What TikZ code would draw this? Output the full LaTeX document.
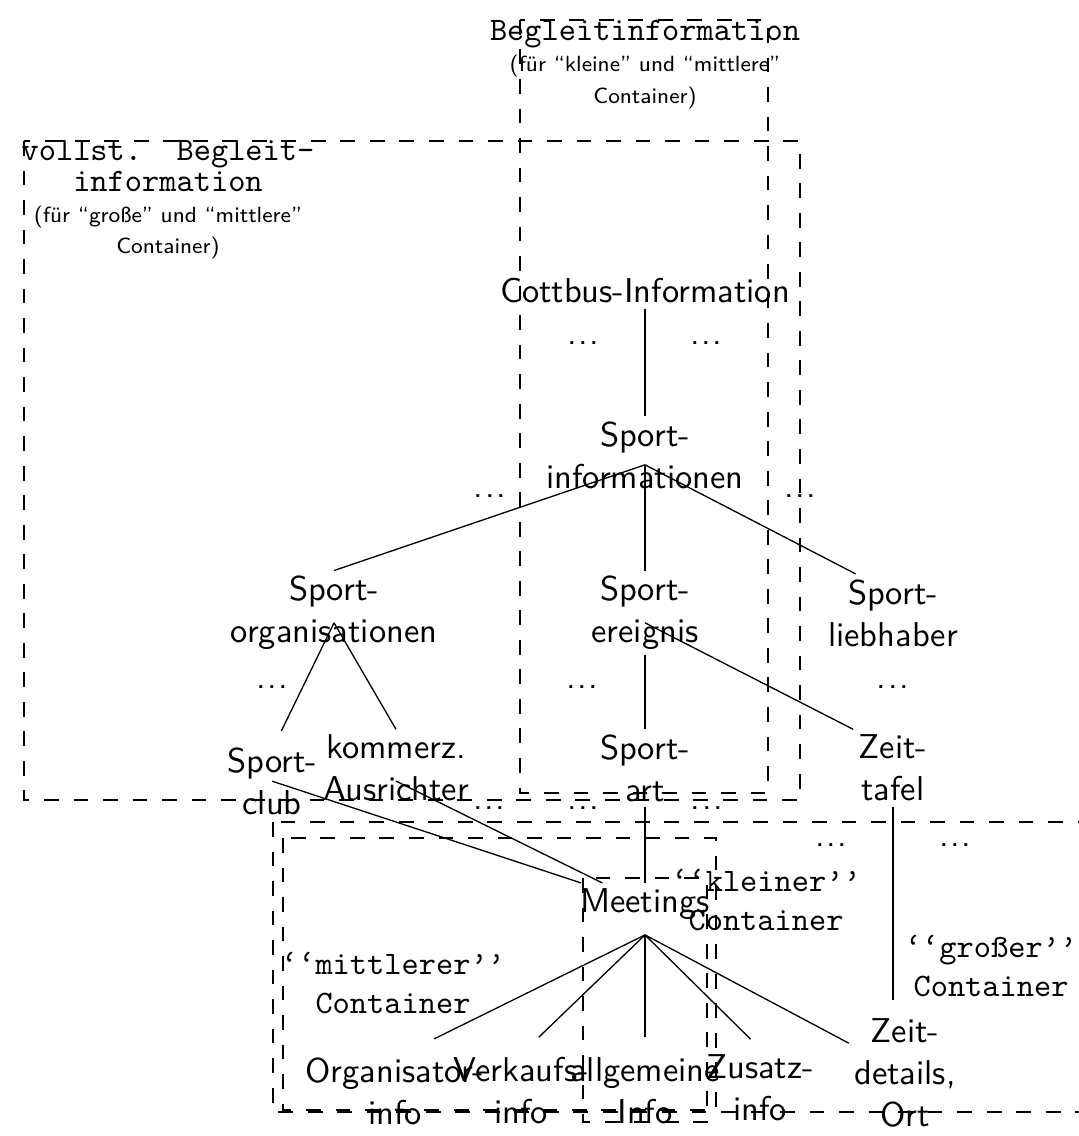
\documentclass[tikz,border=0pt]{standalone}
\usepackage{tikz}
\usetikzlibrary{calc}

\newcommand{\moredots}{.\kern.5pt.\kern.5pt.}

\begin{document}
\begin{tikzpicture}[
        font=\fontsize{10.5}{12.8}\selectfont\sffamily,
        item/.style={align=center, inner sep=1.5pt},
        more/.style={inner sep=0pt},
        tag/.style={font=\ttfamily, align=center, inner sep=1.5pt},
        note/.style={font=\fontsize{6.7}{9.5}\selectfont\sffamily, align=center, inner sep=1.5pt},
        zone/.style={dash pattern=on 4.5pt off 4.5pt}
    ]
    \useasboundingbox (0,0) rectangle (11.551,-12.172);

    \draw[zone] (5.572,-0.214) rectangle (8.229,-8.497);
    \draw[zone] (0.257,-1.511) rectangle (8.572,-8.572);
    \draw[zone] (2.925,-8.808) rectangle (11.8,-11.915);
    \draw[zone] (3.032,-8.979) rectangle (7.672,-11.894);
    \draw[zone] (6.247,-9.408) rectangle (7.575,-12.022);

    \node[note, anchor=north] (begleit) at (6.911,-0.161) {{\normalsize\ttfamily Begleitinformation}\\(für “kleine” und “mittlere”\\Container)};
    \node[note, anchor=north] (vollst) at (1.800,-1.440) {{\normalsize\ttfamily vollst.\ \ Begleit-}\\{\normalsize\ttfamily information}\\(für “große” und “mittlere”\\Container)};

    \node[item] (cottbus) at (6.911,-3.118) {Cottbus-Information};
    \node[item] (sportinfo) at (6.911,-4.875) {Sport-\\informationen};
    \node[item] (sportorg) at (3.579,-6.568) {Sport-\\organisationen};
    \node[item] (sportereignis) at (6.911,-6.568) {Sport-\\ereignis};
    \node[item] (liebhaber) at (9.568,-6.568) {Sport-\\liebhaber};
    \node[item] (sportclub) at (2.915,-8.370) {Sport-\\club};
    \node[item] (kommerz) at (4.243,-8.229) {kommerz.\\Ausrichter};
    \node[item] (sportart) at (6.911,-8.229) {Sport-\\art};
    \node[item] (zeittafel) at (9.568,-8.229) {Zeit-\\tafel};
    \node[item] (meetings) at (6.911,-9.686) {Meetings};
    \node[item] (orginfo) at (4.232,-11.690) {Organisator-\\info};
    \node[item] (verkinfo) at (5.583,-11.680) {Verkaufs-\\info};
    \node[item] (allginfo) at (6.911,-11.690) {allgemeine\\Info};
    \node[item] (zusinfo) at (8.143,-11.660) {Zusatz-\\info};
    \node[item] (zeitdetails) at (9.697,-11.497) {Zeit-\\details,\\Ort};

    \node[tag] (kleiner) at (8.208,-9.644) {‘‘kleiner’’\\Container};
    \node[tag] (mittlerer) at (4.211,-10.533) {‘‘mittlerer’’\\Container};
    \node[tag] (grosser) at (10.619,-10.351) {‘‘großer’’\\Container};

    \node[more] (dots1) at (6.247,-3.675) {\moredots};
    \node[more] (dots2) at (7.565,-3.675) {\moredots};
    \node[more] (dots3) at (5.250,-5.315) {\moredots};
    \node[more] (dots4) at (8.572,-5.315) {\moredots};
    \node[more] (dots5) at (2.915,-7.361) {\moredots};
    \node[more] (dots6) at (6.236,-7.361) {\moredots};
    \node[more] (dots7) at (9.568,-7.361) {\moredots};
    \node[more] (dots8) at (5.240,-8.658) {\moredots};
    \node[more] (dots9) at (6.247,-8.658) {\moredots};
    \node[more] (dots10) at (7.575,-8.658) {\moredots};
    \node[more] (dots11) at (8.904,-9.054) {\moredots};
    \node[more] (dots12) at (10.233,-9.054) {\moredots};

    \coordinate (si-fork) at ([yshift=-3pt]sportinfo.center);
    \coordinate (so-fork) at ([yshift=-3pt]sportorg.center);
    \coordinate (se-fork) at ([yshift=-3pt]sportereignis.center);
    \coordinate (m-fork) at ([yshift=-3pt]meetings.south);

    \draw (cottbus.south) -- (sportinfo.north);
    \draw (si-fork) -- (sportorg.north);
    \draw (si-fork) -- (sportereignis.north);
    \draw (si-fork) -- ([xshift=-4mm]liebhaber.north);
    \draw (so-fork) -- ([shift={(1mm,1.2mm)}]sportclub.north);
    \draw (so-fork) -- (kommerz.north);
    \draw (sportereignis.south) -- (sportart.north);
    \draw (se-fork) -- (zeittafel.north west);
    \draw (sportclub.center) -- (meetings);
    \draw ([yshift=-4pt]kommerz.center) -- (meetings);
    \draw (sportart.south) -- (meetings.north);
    \draw (m-fork) -- ([shift={(4.2mm,1.4mm)}]orginfo.north);
    \draw (m-fork) -- ([shift={(1.9mm,1.5mm)}]verkinfo.north);
    \draw (m-fork) -- ([yshift=1.6mm]allginfo.north);
    \draw (m-fork) -- ([shift={(-1mm,1.1mm)}]zusinfo.north);
    \draw (m-fork) -- (zeitdetails);
    \draw (zeittafel.south) -- ([yshift=1.4mm]zeittafel.south |- zeitdetails.north);
\end{tikzpicture}
\end{document}
